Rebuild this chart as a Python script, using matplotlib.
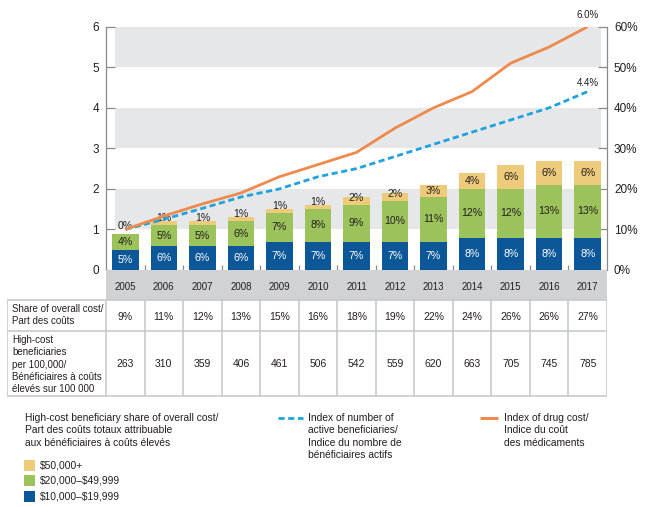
import matplotlib
matplotlib.use("Agg")
import matplotlib.pyplot as plt
from matplotlib.patches import Rectangle
from matplotlib.lines import Line2D

# ---------------- data ----------------
years = ["2005", "2006", "2007", "2008", "2009", "2010", "2011",
         "2012", "2013", "2014", "2015", "2016", "2017"]
tier_10k_20k = [5, 6, 6, 6, 7, 7, 7, 7, 7, 8, 8, 8, 8]
tier_20k_50k = [4, 5, 5, 6, 7, 8, 9, 10, 11, 12, 12, 13, 13]
tier_50k_plus = [0, 1, 1, 1, 1, 1, 2, 2, 3, 4, 6, 6, 6]
index_drug_cost = [1.0, 1.33, 1.63, 1.9, 2.3, 2.6, 2.9, 3.5, 4.0, 4.4, 5.1, 5.5, 6.0]
index_active_benef = [1.0, 1.25, 1.52, 1.8, 2.0, 2.3, 2.5, 2.8, 3.1, 3.4, 3.7, 4.0, 4.4]
share_overall = [9, 11, 12, 13, 15, 16, 18, 19, 22, 24, 26, 26, 27]
per_100k = [263, 310, 359, 406, 461, 506, 542, 559, 620, 663, 705, 745, 785]
left_ticks = [0, 1, 2, 3, 4, 5, 6]
right_ticks = [0, 10, 20, 30, 40, 50, 60]

# ---------------- style ----------------
FONT = ["Liberation Sans", "DejaVu Sans"]
NARROW = ["Liberation Sans Narrow", "Liberation Sans", "DejaVu Sans"]
plt.rcParams["font.family"] = FONT
TXT = "#231f20"
C_BLUE = "#0b5797"
C_GREEN = "#9cc25c"
C_YELLOW = "#edcb7b"
C_ORANGE = "#ef8a4c"
C_LBLUE = "#1ea2e0"
C_BAND = "#e6e7e8"
C_HEAD = "#d0d2d3"
C_GRID = "#c8c9ca"
C_SPINE = "#8a8a8a"

W, H = 650, 507
fig = plt.figure(figsize=(W / 100, H / 100), dpi=100)

def fx(px):
    return px / W

def fy(py):
    return 1 - py / H

# main axes: x from 106 to 607 px, y from 27 (top) to 270 (bottom)
L, R, T, B = 106, 607, 26.7, 270
ax = fig.add_axes([fx(L), fy(B), fx(R) - fx(L), fy(T) - fy(B)])
ax.set_xlim(-0.5, 12.5)
ax.set_ylim(0, 60)
ax.patch.set_alpha(0)

# alternating gray bands
for lo in (10, 30, 50):
    ax.axhspan(lo, lo + 10, xmin=0.018, xmax=0.988, color=C_BAND, lw=0, zorder=0)

xs = list(range(len(years)))
bw = 0.69
bottom2 = tier_10k_20k
bottom3 = [a + b for a, b in zip(tier_10k_20k, tier_20k_50k)]
ax.bar(xs, tier_10k_20k, width=bw, color=C_BLUE, zorder=2)
ax.bar(xs, tier_20k_50k, width=bw, bottom=bottom2, color=C_GREEN, zorder=2)
ax.bar(xs, tier_50k_plus, width=bw, bottom=bottom3, color=C_YELLOW, zorder=2)

for i in xs:
    ax.text(i, tier_10k_20k[i] / 2, f"{tier_10k_20k[i]:.0f}%", ha="center", va="center",
            color="white", fontsize=7.6, zorder=3)
    ax.text(i, bottom2[i] + tier_20k_50k[i] / 2, f"{tier_20k_50k[i]:.0f}%", ha="center",
            va="center", color=TXT, fontsize=7.6, zorder=3)
    v = tier_50k_plus[i]
    yy = bottom3[i] + (v / 2 if v >= 3 else 1.8)
    ax.text(i, yy, f"{v:.0f}%", ha="center", va="center", color=TXT, fontsize=7.6, zorder=3)

# index axis (left)
ax2 = ax.twinx()
ax2.set_ylim(0, 6)
ax2.yaxis.set_ticks_position("left")
ax2.set_yticks(left_ticks)
ax2.set_yticklabels([str(t) for t in left_ticks])
ax2.tick_params(axis="y", direction="in", length=6.5, width=0.9, color=C_SPINE,
                labelsize=8.5, labelcolor=TXT, pad=5, left=True, labelleft=True,
                right=False, labelright=False)
for s in ("top", "bottom", "left", "right"):
    ax2.spines[s].set_visible(False)
ax2.plot(xs, index_active_benef, color=C_LBLUE, lw=2.0, dashes=(2.2, 1.3), zorder=4)
ax2.plot(xs, index_drug_cost, color=C_ORANGE, lw=2.0, zorder=5, solid_capstyle="butt")
ax2.annotate(f"{index_drug_cost[-1]:.1f}%", (xs[-1], index_drug_cost[-1]),
             xytext=(0, 8.5), textcoords="offset points", ha="center", va="center",
             fontsize=7, color=TXT)
ax2.annotate(f"{index_active_benef[-1]:.1f}%", (xs[-1], index_active_benef[-1]),
             xytext=(0, 6.5), textcoords="offset points", ha="center", va="center",
             fontsize=7, color=TXT)

# percent axis (right) - set after twinx
for s in ("top", "bottom"):
    ax.spines[s].set_visible(False)
for s in ("left", "right"):
    ax.spines[s].set_color(C_SPINE)
    ax.spines[s].set_linewidth(0.9)
ax.yaxis.set_ticks_position("right")
ax.set_yticks(right_ticks)
ax.set_yticklabels([f"{t}%" for t in right_ticks])
ax.tick_params(axis="y", direction="in", length=6.5, width=0.9, color=C_SPINE,
               labelsize=8.5, labelcolor=TXT, pad=5, right=True, labelright=True,
               left=False, labelleft=False)
ax.set_xticks([])
ax.set_xticks([i + 0.5 for i in xs[:-1]], minor=True)
ax.tick_params(axis="x", which="minor", direction="in", length=3.3, width=0.9,
               color=C_SPINE, labelbottom=False)

# ---------------- table ----------------
TL, TT, TB = 7, 270, 397
colw = (R - L) / len(years)
tax = fig.add_axes([fx(TL), fy(TB), fx(R) - fx(TL), fy(TT) - fy(TB)])
tax.set_xlim(-0.5 - (L - TL) / colw, 12.5)
tax.set_ylim(TB, TT)
tax.axis("off")

def tx(px):
    return -0.5 + (px - L) / colw

tax.add_patch(Rectangle((-0.5, 270), 13, 29.5, color=C_HEAD, lw=0, zorder=1))
for i, yr in enumerate(years):
    tax.text(i, 287, yr, ha="center", va="center", fontsize=7, color=TXT,
             family=NARROW, zorder=3)

row_y = [299.5, 330.5, 396]
lx0 = tx(TL)
for yv in row_y:
    tax.plot([lx0, 12.5], [yv, yv], color=C_GRID, lw=1.2, zorder=2,
             solid_capstyle="butt")
for xv in [lx0] + [i - 0.5 for i in range(14)]:
    tax.plot([xv, xv], [299.5, 396], color=C_GRID, lw=1.2, zorder=2,
             solid_capstyle="butt")

lbl_x = tx(12.5)
tax.text(lbl_x, 315, "Share of overall cost/\nPart des coûts", ha="left", va="center",
         fontsize=7.0, color=TXT, linespacing=1.3)
tax.text(lbl_x, 364.5, "High-cost\nbeneficiaries\nper 100,000/\nBénéficiaires à coûts\nélevés sur 100 000",
         ha="left", va="center", fontsize=7.0, color=TXT, linespacing=1.3)
for i in xs:
    tax.text(i, 316.5, f"{share_overall[i]}%", ha="center", va="center", fontsize=7.5, color=TXT)
    tax.text(i, 364, f"{per_100k[i]}", ha="center", va="center", fontsize=7.5, color=TXT)

# ---------------- legend ----------------
lax = fig.add_axes([0, 0, 1, 1])
lax.set_xlim(0, W)
lax.set_ylim(H, 0)
lax.axis("off")
lax.patch.set_alpha(0)

LY = 413
lax.text(25, LY, "High-cost beneficiary share of overall cost/\nPart des coûts totaux attribuable\naux bénéficiaires à coûts élevés",
         ha="left", va="top", fontsize=7.4, color=TXT, linespacing=1.3)
sw_items = [(C_YELLOW, "$50,000+"), (C_GREEN, "$20,000–$49,999"), (C_BLUE, "$10,000–$19,999")]
for k, (c, lab) in enumerate(sw_items):
    yc = 465.3 + 15.4 * k
    lax.add_patch(Rectangle((24, yc - 5.5), 11, 11, color=c, lw=0))
    lax.text(39.5, yc, lab.replace("$", r"\$"), ha="left", va="center", fontsize=7.4, color=TXT)

lax.add_line(Line2D([278, 303], [417.5, 417.5], color=C_LBLUE, lw=2.0, dashes=(2.2, 1.3)))
lax.text(307.5, LY, "Index of number of\nactive beneficiaries/\nIndice du nombre de\nbénéficiaires actifs",
         ha="left", va="top", fontsize=7.4, color=TXT, linespacing=1.3)
lax.add_line(Line2D([480, 498], [417.5, 417.5], color=C_ORANGE, lw=2.2, solid_capstyle="butt"))
lax.text(503.5, LY, "Index of drug cost/\nIndice du coût\ndes médicaments",
         ha="left", va="top", fontsize=7.4, color=TXT, linespacing=1.3)

fig.savefig("out.png", dpi=100)
